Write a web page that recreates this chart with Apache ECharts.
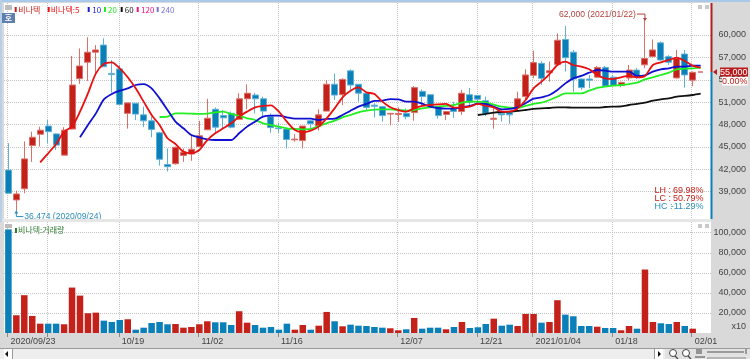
<!DOCTYPE html>
<html><head><meta charset="utf-8">
<style>html,body{margin:0;padding:0;background:#d9d9d9}#c{width:750px;height:359px}</style>
<script src="https://cdn.jsdelivr.net/npm/echarts@6/dist/echarts.min.js"></script></head>
<body><div id="c"></div>
<script>
const opens=[41900,37900,39400,45200,46700,47800,46750,43900,47400,54150,56350,57700,58650,54850,55450,49500,50850,49300,48500,46900,42650,42750,43850,44050,45050,47300,50050,49200,49500,48700,51450,51950,51450,49050,47550,47400,45950,45850,48500,47800,49800,53400,52000,55200,53400,52200,50600,50400,49400,49350,49500,49600,52450,52000,50300,49350,50150,49750,52000,51900,51200,48700,49500,49600,50300,51750,54600,56200,54950,56050,59400,57700,54100,54100,54350,55650,54350,53250,54250,55300,56000,57100,58950,57100,54250,57450,53950];
const closes=[38800,38700,43400,46300,47250,47050,45250,47250,53300,55850,57700,58000,55750,54700,50700,50900,49400,48500,47350,43350,42350,44950,44300,44700,46500,48850,47650,48900,47650,51450,52200,51450,49800,47600,47450,46000,46050,47800,48100,49300,53400,51950,54050,53300,52200,50300,50450,49200,49500,49500,49050,52950,51750,50400,49200,49750,49750,52200,51000,51400,49500,48850,49300,49300,51450,54650,56300,54200,55200,59300,56950,54100,52950,53950,55650,53150,53250,53650,55300,54350,56850,58000,56650,56350,56850,54650,55000];
const lows=[38800,36474,38800,43000,45050,45500,44600,43900,47350,53450,53850,54750,55750,52300,50600,47450,48600,47650,46300,42500,41700,42650,43000,43150,44950,47250,46800,47500,47500,48700,50050,49500,49050,46900,46900,44800,45700,44800,47500,47200,49750,51300,50600,52650,51050,49950,48950,48400,47900,48350,48700,48500,50400,50300,48800,48600,48900,49300,50500,50850,49150,47450,48400,48100,49750,51300,54200,53300,53750,56000,55100,52400,52650,52850,54350,53150,53150,53000,53950,54100,55550,57000,56550,56000,54150,52950,53150];
const highs=[45500,39150,45750,47050,47700,48600,46800,47650,57200,58200,59700,58650,59550,56650,56000,50950,50850,50400,49050,47050,44800,45050,44800,46700,48500,51450,50300,49950,49750,52200,53400,52250,51750,49500,48250,47500,46700,47800,48600,50050,53950,54850,54200,55400,53400,52250,50850,50500,49500,50300,50150,53150,52700,52050,50400,49800,51050,52650,52900,51950,51750,50300,49950,49750,52400,55400,57900,56500,56450,60200,61200,58000,54200,54650,55850,55850,54650,53750,56000,55600,62000,59400,59150,57300,58000,58000,55100];
const volumes=[103300,17700,37700,17000,9300,9300,9300,8700,45300,37300,19700,20300,12300,11000,13000,13700,3300,5300,10000,11000,8700,9000,5300,6000,8700,11700,10700,10700,8000,21700,10300,8000,5300,6000,3300,9300,3300,8000,3300,7300,21000,11700,6700,8300,7300,7000,6000,5300,4700,2700,3700,15000,4300,5300,5300,3700,6000,11000,5000,5700,9000,14300,7300,8300,7000,19000,19000,10300,11000,32700,18300,16700,7000,7000,6300,5000,5000,2700,7000,4300,63300,11000,9700,9000,11000,7000,4300];
const ma5Start=4;
const ma5=[42940,44150,45400,47050,47720,49730,52180,54860,56110,56340,55530,54330,52850,51070,49280,47940,46160,45400,44370,44150,44590,45930,46830,47500,48170,49060,49730,50310,50490,50580,49730,48390,47270,46960,47180,47720,48840,50170,51650,52540,52990,52320,52100,51070,50310,49950,49730,50170,50490,50620,50710,50760,50260,50310,50400,50760,50490,50310,49730,49730,50170,51290,52850,53750,54770,55980,56430,55980,55760,55400,54640,54190,54100,54330,54510,54330,54510,55980,56340,56650,56960,56520,55890,55620];
const ma10Start=9;
const ma10=[46290,47940,49500,51380,52100,52540,52850,53300,53430,52850,51510,49950,48390,47500,46600,46290,46020,45930,45930,45930,46830,47720,48390,49060,49190,49190,48970,48790,48790,48790,48610,48750,48790,49280,49860,50400,50760,51160,51200,51420,51380,51070,51070,50800,50400,50220,50130,50170,50310,50490,50800,50760,50400,50040,50090,50310,50850,51470,51650,51960,52630,53520,54190,54510,54950,55310,55220,55090,55090,55090,54510,54600,55090,55400,55530,55760,55760,55890,55890];
const ma20Start=19;
const ma20=[49010,49060,49500,49500,49460,49420,49460,49640,49730,49420,49150,48840,48610,48170,47940,47720,47500,47410,47360,47410,47810,48170,48520,48970,49280,49640,49860,50000,50040,50040,49950,49860,49950,50170,50310,50400,50490,50620,50930,51070,51070,50930,50670,50400,50260,50220,50490,50760,50930,51290,51740,52180,52180,52180,52540,52900,53080,53210,53300,53430,53610,54060,54330,54640,54950,55400,55490,55530,55620];
const ma60Start=59;
const ma60=[49280,49420,49590,49680,49730,49820,49950,50090,50170,50220,50310,50310,50260,50260,50260,50260,50350,50400,50440,50620,50760,50930,51200,51380,51510,51740,51830,51960,52140];
const priceTicks=[39000,42000,45000,48000,51000,54000,57000,60000];
const volumeTicks=[20000,40000,60000,80000,100000];
const dateTicks=[[0,'2020/09/23'],[5,''],[14,'10/19'],[24,'11/02'],[34,'11/16'],[49,'12/07'],[59,'12/21'],[66,'2021/01/04'],[76,'01/18'],[86,'02/01']];
const legendItems=[['비나텍','#c4211a'],['비나텍:5','#ee1111'],['10','#1a1ad0'],['20','#22ee22'],['60','#111111'],['120','#ee1188'],['240','#7a70d8']];

const RED='#c4211a',BLUE='#0b7fb8',RED_P='#d9716b',BLUE_P='#5fb0d6';
const LAT='"Liberation Sans",sans-serif';
const CJK='"Noto Sans CJK KR",sans-serif';
const FONT9='9px '+LAT;
const tickOffset=0.12;
const xTicks=dateTicks.map(d=>d[0]-tickOffset);
const labelFor=v=>{const d=dateTicks.find(t=>Math.abs(t[0]-tickOffset-v)<1e-6);return d?d[1]:'';};
const pairs=(start,arr)=>arr.map((v,i)=>[start+i,v]);
const grid1={left:4,top:3,width:707,height:216,show:true,backgroundColor:'#fff',borderWidth:0};
const grid2={left:4,top:222,width:707,height:111,show:true,backgroundColor:'#fff',borderWidth:0};
const xBase={type:'value',min:-0.55,max:88.3,axisLine:{show:false},
  axisTick:{show:false,customValues:xTicks},axisLabel:{show:false,customValues:xTicks},
  splitLine:{show:true,lineStyle:{color:'#c4c4c4',type:'dotted',width:1}}};
const yGrid={show:true,lineStyle:{color:'#c4c4c4',type:'dotted',width:1}};
const lineSeries=(name,start,arr,color)=>({type:'line',name,data:pairs(start,arr),xAxisIndex:0,yAxisIndex:0,
  smooth:0.25,symbol:'none',lineStyle:{color,width:1.8},z:5,silent:true,clip:false});

const annotations=[[80,62000,'62,000 (2021/01/22)','high'],[1,36474,'36,474 (2020/09/24)','low']];
function annotationItem(params,api){
  const p=api.coord([api.value(0),api.value(1)]);
  const a=annotations[params.dataIndex];
  const high=a[3]==='high';
  const c=high?'#b5403c':'#2b8dbb';
  const ly=high?p[1]-6:p[1]+6;
  const pts=high?[[p[0],p[1]],[p[0],ly],[p[0]-8,ly]]:[[p[0],p[1]],[p[0],ly],[p[0]+7,ly]];
  const tip=high?[[p[0]-2,p[1]-2],[p[0]+2,p[1]-2],[p[0],p[1]+1]]:[[p[0]-2,p[1]+3],[p[0]+2,p[1]+3],[p[0],p[1]]];
  return {type:'group',children:[
    {type:'polyline',shape:{points:pts},style:{stroke:c,fill:null,lineWidth:1}},
    {type:'polygon',shape:{points:tip},style:{fill:c}},
    {type:'text',x:high?p[0]-9:p[0]+8,y:ly,scaleX:0.95,style:{text:a[2],fill:c,font:FONT9,
      textAlign:high?'right':'left',textVerticalAlign:'middle'}}
  ]};
}

const rect=(x,y,w,h,fill,z)=>({type:'rect',shape:{x,y,width:w,height:h},style:{fill},z:z||20,silent:true});
const txt=(x,y,text,fill,font,align)=>({type:'text',x,y,style:{text,fill,font:font||FONT9,textAlign:align||'left',textVerticalAlign:'middle'},z:30,silent:true});
const line=(x1,y1,x2,y2,c,w)=>({type:'line',shape:{x1,y1,x2,y2},style:{stroke:c,lineWidth:w||1},z:30,silent:true});
const g=[
 rect(0,0,750,2,'#a9c9ea'), rect(0,0,2,222,'#b7cfe8'),
 rect(2,219,709,3,'#e6e6e6'),
 rect(0,348,750,1,'#9a9a9a'), rect(0,349,750,10,'#eeeeee'),
 rect(4,349,8,10,'#ffffff'), rect(12,349,1,10,'#999999'),
 {type:'polygon',shape:{points:[[5,354],[8,351],[8,357]]},style:{fill:'#111'},z:30,silent:true},
 rect(654,349,1,10,'#999999'), rect(655,349,8,10,'#ffffff'),
 {type:'polygon',shape:{points:[[661,354],[658,351],[658,357]]},style:{fill:'#111'},z:30,silent:true},
 rect(665,349,85,10,'#e2e2e2'),
 {type:'circle',shape:{cx:673,cy:353,r:3.5},style:{fill:'#fff',stroke:'#444',lineWidth:1},z:30,silent:true},
 line(675,356,678,359,'#444',1.3),
 {type:'circle',shape:{cx:686,cy:353,r:3.5},style:{fill:'#fff',stroke:'#444',lineWidth:1},z:30,silent:true},
 line(688,356,691,359,'#444',1.3),
 line(697,349,697,354,'#444'),line(699,349,699,354,'#444'),line(701,349,701,354,'#444'),line(695,357,705,357,'#444'),
 line(707,352,744,352,'#555'),line(707,358,746,358,'#888'),line(746,349,746,354,'#555'),
 rect(5,5,7,5,'#bdbdbd'), rect(5,224,7,4,'#bdbdbd'),
 rect(698,5,4,4,'#c8c8c8'), rect(705,5,4,4,'#c8c8c8'),
 rect(698,224,4,4,'#c8c8c8'), rect(705,224,4,4,'#c8c8c8'),
 rect(2,13,13,10,'#5f80ac'),
 txt(8.5,18,'호','#ffffff','bold 8px '+CJK,'center'),
 rect(710.5,3,2,69,'#b51f1f'), rect(710.5,72,2,147,'#0b7fb8'),
 {type:'polygon',shape:{points:[[713,72],[717,69],[717,75]]},style:{fill:'#b51f1f'},z:30,silent:true},
 line(698,72,703,72,'#c4211a',1),
 rect(720,67.5,28,9,'#b81c1c'), txt(747.5,72.5,'55,000','#ffffff',FONT9,'right'),
 rect(722,77,26,8.5,'#ffffff'), txt(747.5,81.5,'0.00%','#c4211a',FONT9,'right'),
 txt(654.5,190.5,'LH :','#c4211a'), txt(703.5,190.5,'69.98%','#c4211a',FONT9,'right'),
 txt(654.5,198.5,'LC :','#c4211a'), txt(703.5,198.5,'50.79%','#c4211a',FONT9,'right'),
 txt(654.5,206.5,'HC :','#2b8dbb'), txt(703.5,206.5,'-11.29%','#2b8dbb',FONT9,'right'),
 txt(746,327,'x10','#444444',FONT9,'right'),
 rect(15,228,2,5,'#2e7d32'),
 txt(18,230,'비나텍:거래량','#2e7d32','8px '+CJK)
];
const legendX=[18.3,50.7,92.3,108,124.7,141,161], legendMark=[14.7,47.7,87.7,104,120.7,136.7,156.7];
legendItems.forEach((it,i)=>{g.push(rect(legendMark[i],7,2,5,it[1]));
  g.push(txt(legendX[i],9.5,it[0],it[1],'8px '+CJK));});

const chart=echarts.init(document.getElementById('c'),null,{renderer:'canvas'});
chart.setOption({animation:false,backgroundColor:'#d9d9d9',
 grid:[grid1,grid2],
 xAxis:[Object.assign({gridIndex:0},xBase),
  Object.assign({},xBase,{gridIndex:1,
   axisTick:{show:true,customValues:xTicks,length:4,lineStyle:{color:'#8a8a8a'}},
   axisLabel:{show:true,customValues:xTicks,formatter:labelFor,align:'left',margin:4,padding:[0,0,0,3],color:'#444',fontFamily:LAT,fontSize:9,hideOverlap:false,showMinLabel:true,showMaxLabel:true}})],
 yAxis:[
  {gridIndex:0,type:'value',position:'right',min:35346,max:64287,scale:true,
   axisLine:{show:false},axisTick:{show:false,customValues:priceTicks},splitLine:yGrid,
   axisLabel:{customValues:priceTicks,align:'right',margin:35,color:'#444',fontFamily:LAT,fontSize:9,formatter:v=>v.toLocaleString('en-US')}},
  {gridIndex:1,type:'value',position:'right',min:0,max:110700,
   axisLine:{show:false},axisTick:{show:false,customValues:volumeTicks},splitLine:yGrid,
   axisLabel:{customValues:volumeTicks,align:'right',margin:35,color:'#444',fontFamily:LAT,fontSize:9,formatter:v=>v.toLocaleString('en-US')}}],
 graphic:{elements:g},
 series:[
  {type:'candlestick',name:'비나텍',xAxisIndex:0,yAxisIndex:0,barWidth:6.5,clip:false,z:3,silent:true,
   encode:{x:0,y:[1,2,3,4]},
   data:opens.map((o,i)=>[i,o,closes[i],lows[i],highs[i]]),
   itemStyle:{color:RED,color0:BLUE,borderColor:RED_P,borderColor0:BLUE_P,borderColorDoji:RED_P,borderWidth:1}},
  lineSeries('MA60',ma60Start,ma60,'#111111'),
  lineSeries('MA20',ma20Start,ma20,'#22ee22'),
  lineSeries('MA10',ma10Start,ma10,'#1010d0'),
  lineSeries('MA5',ma5Start,ma5,'#e81010'),
  {type:'custom',name:'annotations',xAxisIndex:0,yAxisIndex:0,clip:false,z:6,silent:true,
   data:annotations.map(a=>[a[0],a[1]]),encode:{x:0,y:1},renderItem:annotationItem},
  {type:'bar',name:'거래량',xAxisIndex:1,yAxisIndex:1,barWidth:6.5,silent:true,z:3,
   data:volumes.map((v,i)=>({value:[i,v],itemStyle:{color:closes[i]>=opens[i]?RED:BLUE}}))}
 ]});
</script></body></html>
